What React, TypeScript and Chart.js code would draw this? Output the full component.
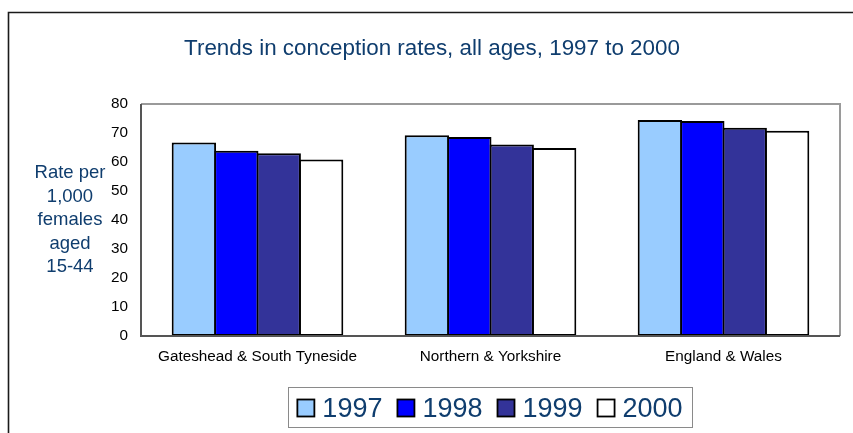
import React, { useEffect, useRef } from 'react';
import { Chart, registerables } from 'chart.js';

Chart.register(...registerables);

const categories = ['Gateshead & South Tyneside', 'Northern & Yorkshire', 'England & Wales'];
const years = ['1997', '1998', '1999', '2000'];
const values1997 = [66.7, 69.2, 74.5];
const values1998 = [63.9, 68.6, 74.1];
const values1999 = [63.0, 66.0, 71.8];
const values2000 = [60.9, 64.8, 70.8];
const seriesValues = [values1997, values1998, values1999, values2000];
const seriesColors = ['#99CCFF', '#0000FF', '#333399', '#FFFFFF'];
const yTicks = [0, 10, 20, 30, 40, 50, 60, 70, 80];
const titleText = 'Trends in conception rates, all ages, 1997 to 2000';
const yAxisLabel = ['Rate per', '1,000', 'females', 'aged', '15-44'];

const FONT = "'Liberation Sans', Arial, sans-serif";
const TEXT_BLUE = '#0F3D6E';

const decor = {
  id: 'decor',
  beforeDraw(chart: any) {
    const ctx = chart.ctx;
    ctx.save();
    ctx.fillStyle = '#ffffff';
    ctx.fillRect(0, 0, chart.width, chart.height);
    // outer frame
    ctx.strokeStyle = '#1a1a1a';
    ctx.lineWidth = 1.6;
    ctx.beginPath();
    ctx.moveTo(8.5, chart.height);
    ctx.lineTo(8.5, 12.5);
    ctx.lineTo(chart.width, 12.5);
    ctx.stroke();
    // title
    ctx.fillStyle = TEXT_BLUE;
    ctx.font = `22.4px ${FONT}`;
    ctx.textAlign = 'center';
    ctx.textBaseline = 'alphabetic';
    ctx.fillText(titleText, 432, 55);
    // y-axis label
    ctx.font = `18.5px ${FONT}`;
    const baselines = [178, 201.5, 225, 248.5, 272];
    yAxisLabel.forEach((line, i) => ctx.fillText(line, 70, baselines[i]));
    ctx.restore();
  },
  afterDatasetsDraw(chart: any) {
    const { ctx, chartArea } = chart;
    const { left, right, top, bottom } = chartArea;
    ctx.save();
    ctx.strokeStyle = '#9a9a9a';
    ctx.lineWidth = 2;
    ctx.beginPath();
    ctx.moveTo(left, top);
    ctx.lineTo(right, top);
    ctx.lineTo(right, bottom);
    ctx.stroke();
    ctx.strokeStyle = '#555555';
    ctx.beginPath();
    ctx.moveTo(left, top);
    ctx.lineTo(left, bottom);
    ctx.lineTo(right, bottom);
    ctx.stroke();
    ctx.restore();
  },
  afterDraw(chart: any) {
    const ctx = chart.ctx;
    ctx.save();
    // legend box
    ctx.strokeStyle = '#8a8a8a';
    ctx.lineWidth = 1;
    ctx.strokeRect(288.5, 387.5, 404, 40);
    ctx.font = `27px ${FONT}`;
    const sw = 17;
    const gap = 8;
    const spacing = 15;
    const datasets = chart.data.datasets;
    const widths = datasets.map((d: any) => sw + gap + ctx.measureText(d.label).width);
    const total = widths.reduce((a: number, b: number) => a + b, 0) + spacing * (datasets.length - 1);
    let x = 490 - total / 2;
    const baseline = 416.5;
    datasets.forEach((d: any, i: number) => {
      ctx.fillStyle = d.backgroundColor;
      ctx.fillRect(x, baseline - sw, sw, sw);
      ctx.strokeStyle = '#000000';
      ctx.lineWidth = 1.8;
      ctx.strokeRect(x, baseline - sw, sw, sw);
      ctx.fillStyle = TEXT_BLUE;
      ctx.textAlign = 'left';
      ctx.textBaseline = 'alphabetic';
      ctx.fillText(d.label, x + sw + gap, baseline);
      x += widths[i] + spacing;
    });
    ctx.restore();
  },
};

export default function App() {
  const canvasRef = useRef<HTMLCanvasElement | null>(null);

  useEffect(() => {
    if (!canvasRef.current) return;
    const chart = new Chart(canvasRef.current, {
      type: 'bar',
      data: {
        labels: categories,
        datasets: years.map((y, i) => ({
          label: y,
          data: seriesValues[i],
          backgroundColor: seriesColors[i],
          borderColor: '#000000',
          borderWidth: 2,
          borderSkipped: false,
          barPercentage: 1.047,
          categoryPercentage: 0.728,
        })),
      },
      options: {
        animation: false,
        responsive: false,
        layout: { padding: { top: 104, right: 13, left: 0, bottom: 0 } },
        plugins: {
          legend: { display: false },
          title: { display: false },
          tooltip: { enabled: false },
        },
        scales: {
          x: {
            grid: { display: false, drawTicks: false },
            border: { display: false },
            ticks: { color: '#000000', font: { family: FONT, size: 15.3 }, padding: 12, maxRotation: 0 },
            afterFit: (scale: any) => {
              scale.height = 97;
            },
          },
          y: {
            min: 0,
            max: 80,
            grid: { display: false, drawTicks: false },
            border: { display: false },
            ticks: { color: '#000000', font: { family: FONT, size: 15.3 }, padding: 13 },
            afterBuildTicks: (scale: any) => {
              scale.ticks = yTicks.map((v) => ({ value: v }));
            },
            afterFit: (scale: any) => {
              scale.width = 141;
            },
          },
        },
      },
      plugins: [decor],
    });
    return () => chart.destroy();
  }, []);

  return (
    <div style={{ position: 'fixed', left: 0, top: 0, width: 853, height: 433 }}>
      <canvas ref={canvasRef} width={853} height={433} style={{ display: 'block' }} />
    </div>
  );
}
